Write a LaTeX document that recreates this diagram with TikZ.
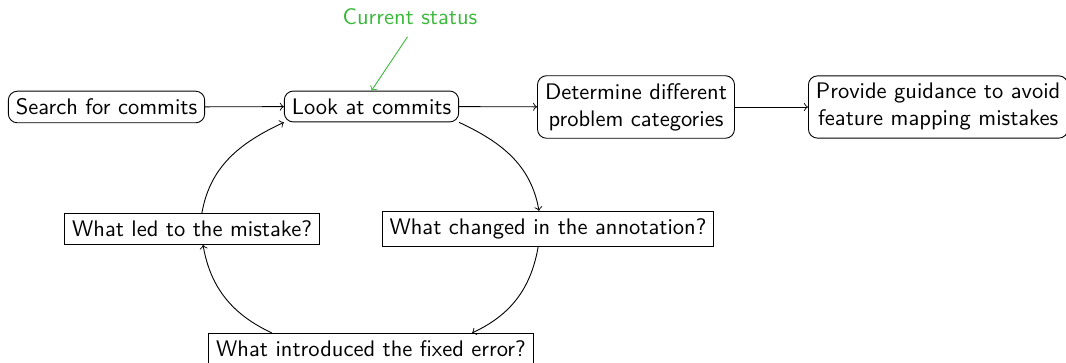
\documentclass[tikz,border=0pt]{standalone}
\usetikzlibrary{arrows}
\definecolor{statusgreen}{RGB}{60,185,60}
\begin{document}
\begin{tikzpicture}[x={(0.4444pt,0pt)}, y={(0pt,-0.4444pt)},
  font=\sffamily,
  rbox/.style={draw, rounded corners=4pt, align=center},
  sbox/.style={draw},
  status/.style={text=statusgreen},
  conn/.style={->}]
\useasboundingbox (0,0) rectangle (1066,363);
\node[rbox] (search) at (106.5,107) {Search for commits};
\node[rbox] (look) at (371.5,106.5) {Look at commits};
\node[rbox] (det) at (636,107) {Determine different\\problem categories};
\node[rbox, anchor=west] (prov) at (808,107) {Provide guidance to avoid\\feature mapping mistakes};
\node[status] (stat) at (410,17) {Current status};
\node[sbox] (led) at (192,229) {What led to the mistake?};
\node[sbox] (chg) at (548,229) {What changed in the annotation?};
\node[sbox, anchor=north] (intro) at (371,333) {What introduced the fixed error?};

\draw[conn] (search) -- (look);
\draw[conn] (look) -- (det);
\draw[conn] (det) -- (prov);
\draw[conn, statusgreen, shorten <=2pt] (stat.south) -- (look.north);

\draw[conn] (look.south east) to[out=-25,in=100] ([xshift=-4pt]chg.north);
\draw[conn] ([xshift=-4.4pt]chg.south) to[out=-100,in=25] ([xshift=44.9pt]intro.north);
\draw[conn] ([xshift=-44pt]intro.north) to[out=155,in=-80] ([xshift=4.9pt]led.south);
\draw[conn] ([xshift=4.4pt]led.north) to[out=80,in=-155] (look.south west);
\end{tikzpicture}
\end{document}
